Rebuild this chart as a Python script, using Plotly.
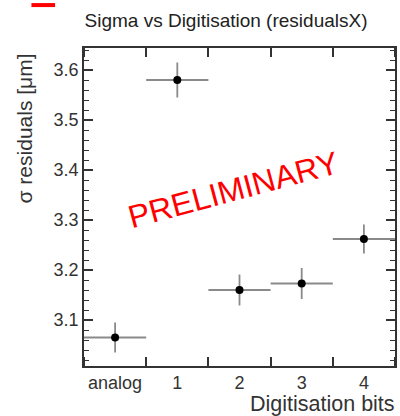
import plotly.graph_objects as go

# Resolution per digitisation setting
categories = ["analog", "1", "2", "3", "4"]
sigma = [3.065, 3.580, 3.160, 3.173, 3.262]
sigma_err = [0.030, 0.035, 0.031, 0.031, 0.029]
bin_half_width = [0.5, 0.5, 0.5, 0.5, 0.5]
y_ticks = [3.1, 3.2, 3.3, 3.4, 3.5, 3.6]

x_pos = list(range(len(categories)))
axis_color = "#333333"
font_family = "Liberation Sans, Arial, sans-serif"

fig = go.Figure()
fig.add_trace(go.Scatter(
    x=x_pos,
    y=sigma,
    mode="markers",
    marker=dict(color="black", size=8),
    error_x=dict(type="data", array=bin_half_width, color="#8a8a8a", thickness=1.8, width=0),
    error_y=dict(type="data", array=sigma_err, color="#8a8a8a", thickness=1.8, width=0),
    showlegend=False,
))

fig.update_layout(
    width=400,
    height=416,
    margin=dict(l=84, r=3, t=48, b=50),
    paper_bgcolor="white",
    plot_bgcolor="white",
    font=dict(family=font_family, color=axis_color),
    title=dict(
        text="Sigma vs Digitisation (residualsX)",
        x=0.565, xanchor="center", y=0.95, yanchor="middle",
        font=dict(size=19, color="#222222"),
    ),
    xaxis=dict(
        range=[-0.5, 4.5],
        tickvals=x_pos,
        ticktext=categories,
        ticks="",
        showgrid=False,
        zeroline=False,
        showline=True,
        linecolor=axis_color,
        linewidth=1.5,
        mirror="allticks",
        tickfont=dict(size=18, color=axis_color),
        minor=dict(tick0=0.5, dtick=1, ticks="inside", ticklen=9, tickcolor=axis_color,
                   tickwidth=1.5, showgrid=False),
    ),
    yaxis=dict(
        range=[3.008, 3.644],
        tickvals=y_ticks,
        ticks="inside",
        ticklen=9,
        tickwidth=1.5,
        tickcolor=axis_color,
        showgrid=False,
        zeroline=False,
        showline=True,
        linecolor=axis_color,
        linewidth=1.5,
        mirror="allticks",
        tickfont=dict(size=18, color=axis_color),
        minor=dict(dtick=0.02, tick0=3.0, ticks="inside", ticklen=5, tickcolor=axis_color,
                   tickwidth=1.2, showgrid=False),
    ),
    annotations=[
        dict(text="σ residuals [μm]", xref="paper", yref="paper",
             x=-0.192, y=0.748, xanchor="center", yanchor="middle", textangle=-90,
             showarrow=False, font=dict(size=21, color=axis_color)),
        dict(text="Digitisation bits", xref="paper", yref="paper",
             x=1.005, y=-0.12, xanchor="right", yanchor="middle",
             showarrow=False, font=dict(size=21.5, color=axis_color)),
        dict(text="PRELIMINARY", xref="paper", yref="paper",
             x=0.478, y=0.555, xanchor="center", yanchor="middle", textangle=-15,
             showarrow=False, font=dict(size=32, color="#ff0000")),
    ],
    shapes=[
        dict(type="line", xref="paper", yref="paper",
             x0=-0.169, x1=-0.093, y0=1.135, y1=1.135,
             line=dict(color="#ff0000", width=4)),
    ],
)

fig.write_html("out.html")
